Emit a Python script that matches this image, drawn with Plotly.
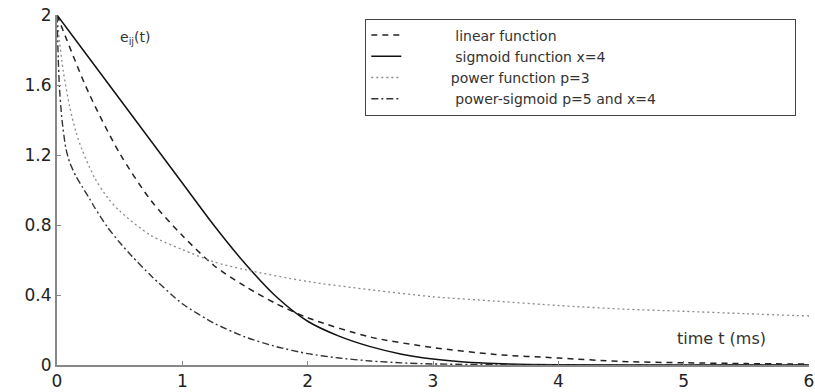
import plotly.graph_objects as go

# ---- data ----
t_linear = [0, 0.25, 0.5, 0.75, 1, 1.25, 1.5, 1.75, 2, 2.5, 3, 3.5, 4, 4.5, 5, 5.5, 6]
e_linear = [2, 1.56, 1.21, 0.94, 0.74, 0.57, 0.45, 0.35, 0.27, 0.16, 0.10, 0.06, 0.04, 0.02, 0.013, 0.008, 0.005]

t_sigmoid = [0, 0.25, 0.5, 0.75, 1, 1.25, 1.5, 1.75, 2, 2.25, 2.5, 2.75, 3, 3.25, 3.5, 4, 5, 6]
e_sigmoid = [2, 1.76, 1.52, 1.28, 1.04, 0.80, 0.58, 0.39, 0.25, 0.165, 0.105, 0.062, 0.034, 0.017, 0.008, 0.002, 0, 0]

t_power = [0, 0.02, 0.05, 0.1, 0.15, 0.2, 0.3, 0.4, 0.5, 0.75, 1, 1.25, 1.5, 2, 2.5, 3, 3.5, 4, 4.5, 5, 5.5, 6]
e_power = [2, 1.85, 1.68, 1.48, 1.335, 1.23, 1.07, 0.96, 0.88, 0.74, 0.66, 0.59, 0.545, 0.477, 0.43, 0.39, 0.365, 0.34, 0.32, 0.307, 0.293, 0.28]

t_psig = [0, 0.01, 0.02, 0.04, 0.07, 0.1, 0.15, 0.2, 0.26, 0.3, 0.4, 0.5, 0.6, 0.75, 1, 1.25, 1.5, 1.75, 2, 2.25, 2.5, 2.75, 3, 3.5, 4, 5, 6]
e_psig = [2, 1.75, 1.58, 1.40, 1.24, 1.16, 1.08, 1.02, 0.95, 0.90, 0.79, 0.70, 0.62, 0.51, 0.35, 0.24, 0.16, 0.105, 0.065, 0.04, 0.023, 0.012, 0.006, 0.002, 0, 0, 0]

x_ticks = [0, 1, 2, 3, 4, 5, 6]
y_ticks = [0, 0.4, 0.8, 1.2, 1.6, 2]
y_tick_labels = ["0", "0.4", "0.8", "1.2", "1.6", "2"]

names = ["linear function", "sigmoid function x=4", "power function p=3", "power-sigmoid p=5 and x=4"]

NB = "\u00a0"
pad_left = [NB * 11, NB * 11, NB * 10, NB * 11]
def legend_name(i):
    return pad_left[i] + names[i] + NB * 30

FONT = "DejaVu Sans, Liberation Sans, Arial, sans-serif"

fig = go.Figure()
fig.add_trace(go.Scatter(x=t_linear, y=e_linear, mode="lines", name=legend_name(0),
                         line=dict(color="#222222", width=1.5, dash="6px,5px", shape="spline", smoothing=0.8)))
fig.add_trace(go.Scatter(x=t_sigmoid, y=e_sigmoid, mode="lines", name=legend_name(1),
                         line=dict(color="#111111", width=1.5, shape="spline", smoothing=0.8)))
fig.add_trace(go.Scatter(x=t_power, y=e_power, mode="lines", name=legend_name(2),
                         line=dict(color="#8a8a8a", width=1.3, dash="2px,3px", shape="spline", smoothing=0.8)))
fig.add_trace(go.Scatter(x=t_psig, y=e_psig, mode="lines", name=legend_name(3),
                         line=dict(color="#333333", width=1.4, dash="7px,3px,2px,3px", shape="spline", smoothing=0.6)))

fig.update_layout(
    width=815, height=392,
    margin=dict(l=57, r=1, t=15, b=25),
    paper_bgcolor="white", plot_bgcolor="white",
    font=dict(family=FONT, color="#222222"),
    legend=dict(x=0.41, y=0.99, xanchor="left", yanchor="top",
                bordercolor="#444444", borderwidth=1, bgcolor="white",
                font=dict(family=FONT, size=14, color="#333333"),
                tracegroupgap=0),
    showlegend=True,
)
fig.update_xaxes(range=[0, 6], tickvals=x_ticks, ticktext=[str(v) for v in x_ticks],
                 showgrid=False, zeroline=False, showline=True, linecolor="#888888", linewidth=2,
                 ticks="inside", ticklen=4, tickcolor="#888888", ticklabeloverflow="allow",
                 tickfont=dict(family=FONT, size=17, color="#222222"))
fig.update_yaxes(range=[0, 2], tickvals=y_ticks, ticktext=y_tick_labels,
                 showgrid=False, zeroline=False, showline=True, linecolor="#888888", linewidth=2,
                 ticks="inside", ticklen=4, tickcolor="#888888",
                 tickfont=dict(family=FONT, size=17, color="#222222"))

fig.add_annotation(x=0.63, y=1.87, text="e<sub>ij</sub>(t)", showarrow=False,
                   font=dict(family=FONT, size=14, color="#333333"))
fig.add_annotation(x=5.30, y=0.153, text="time t (ms)", showarrow=False,
                   font=dict(family=FONT, size=16, color="#333333"))

fig.write_html("out.html")
